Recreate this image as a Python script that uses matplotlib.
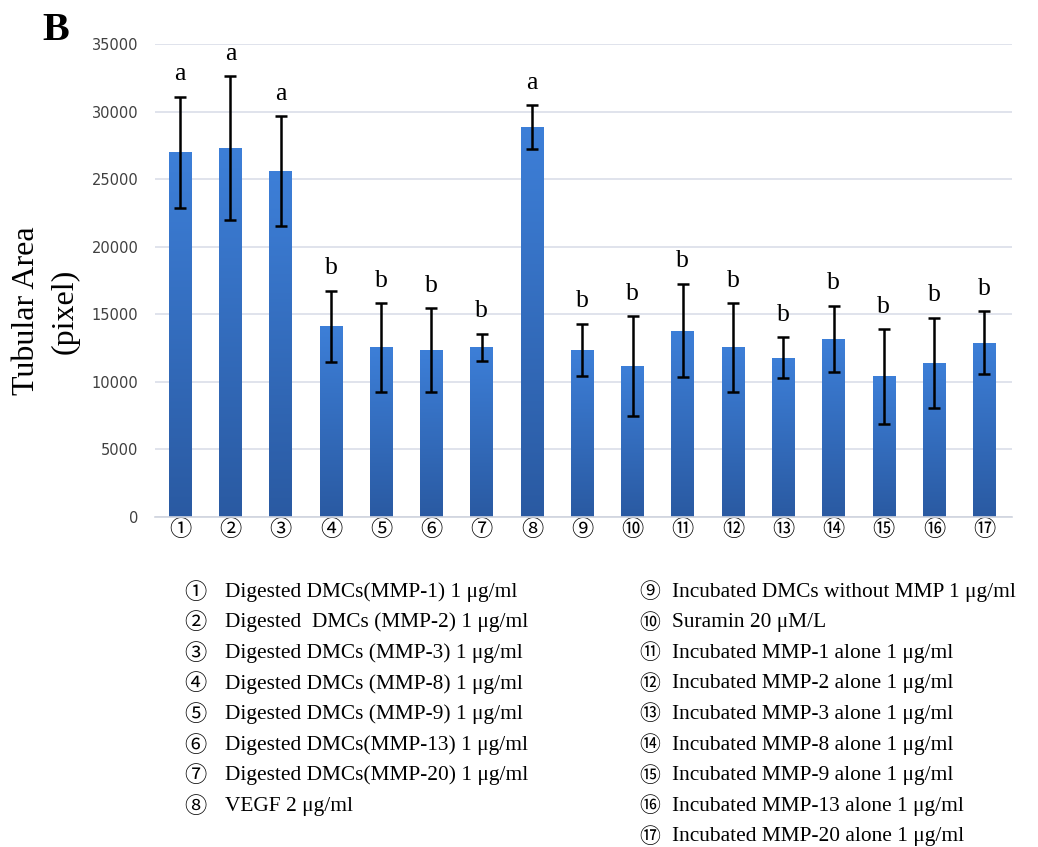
import matplotlib
matplotlib.use("Agg")
import matplotlib.pyplot as plt
import numpy as np
from matplotlib.colors import LinearSegmentedColormap

# values
groups = ["①", "②", "③", "④", "⑤", "⑥", "⑦", "⑧", "⑨",
          "⑩", "⑪", "⑫", "⑬", "⑭", "⑮", "⑯", "⑰"]
means = [27000, 27300, 25600, 14100, 12550, 12350, 12550, 28850, 12350,
         11150, 13800, 12550, 11800, 13200, 10400, 11400, 12900]
errs = [4100, 5300, 4050, 2650, 3280, 3080, 1000, 1600, 1950,
        3700, 3470, 3275, 1500, 2450, 3485, 3350, 2330]
letters = ["a", "a", "a", "b", "b", "b", "b", "a", "b",
           "b", "b", "b", "b", "b", "b", "b", "b"]

legend_left = ["Digested DMCs(MMP-1) 1 μg/ml",
               "Digested  DMCs (MMP-2) 1 μg/ml",
               "Digested DMCs (MMP-3) 1 μg/ml",
               "Digested DMCs (MMP-8) 1 μg/ml",
               "Digested DMCs (MMP-9) 1 μg/ml",
               "Digested DMCs(MMP-13) 1 μg/ml",
               "Digested DMCs(MMP-20) 1 μg/ml",
               "VEGF 2 μg/ml"]
legend_right = ["Incubated DMCs without MMP 1 μg/ml",
                "Suramin 20 μM/L",
                "Incubated MMP-1 alone 1 μg/ml",
                "Incubated MMP-2 alone 1 μg/ml",
                "Incubated MMP-3 alone 1 μg/ml",
                "Incubated MMP-8 alone 1 μg/ml",
                "Incubated MMP-9 alone 1 μg/ml",
                "Incubated MMP-13 alone 1 μg/ml",
                "Incubated MMP-20 alone 1 μg/ml"]

serif = ["Liberation Serif", "Noto Sans CJK JP", "DejaVu Sans"]
circ = ["Noto Sans CJK JP", "DejaVu Sans"]

W, H = 1038, 847
fig = plt.figure(figsize=(W / 100, H / 100), dpi=100)
ax = fig.add_axes([155 / W, 1 - 517 / H, (1012 - 155) / W, 473 / H])

x = np.arange(len(means))
bars = ax.bar(x, means, width=0.45, color="#3370c8", zorder=2)

# vertical gradient inside each bar
cmap = LinearSegmentedColormap.from_list("bl", ["#2a5aa2", "#3d7fd8"])
grad = np.linspace(0, 1, 256).reshape(-1, 1)
for b in bars:
    x0, w, h = b.get_x(), b.get_width(), b.get_height()
    im = ax.imshow(grad, extent=[x0, x0 + w, 0, h], origin="lower",
                   cmap=cmap, aspect="auto", zorder=2.1)
    im.set_clip_path(b)

ax.errorbar(x, means, yerr=errs, fmt="none", ecolor="black",
            elinewidth=1.8, capsize=4, capthick=1.8, zorder=3)

for xi, m, e, l in zip(x, means, errs, letters):
    ax.text(xi, m + e + 850, l, ha="center", va="bottom",
            fontsize=18.5, family=serif, color="black")

ax.set_xlim(-0.5, len(means) - 0.45)
ax.set_ylim(0, 35000)
ax.set_yticks(np.arange(0, 35001, 5000))
ax.yaxis.grid(True, color="#dadee9", lw=1.2, zorder=0)
ax.set_axisbelow(True)
for s in ["top", "right", "left"]:
    ax.spines[s].set_visible(False)
ax.spines["bottom"].set_color("#d0d4de")
ax.spines["bottom"].set_linewidth(1.2)
ax.tick_params(axis="both", length=0)
ax.tick_params(axis="y", pad=12, labelsize=10.5, labelcolor="#404040")
ax.set_xticks(x)
ax.set_xticklabels(groups, fontsize=16, family=circ)
ax.tick_params(axis="x", pad=1)

# y label, two lines
fig.text(27 / W, 1 - 311 / H, "Tubular Area", rotation=90, ha="center",
         va="center", fontsize=23, family=serif)
fig.text(65 / W, 1 - 311 / H, "(pixel)", rotation=90, ha="center",
         va="center", fontsize=23, family=serif)

fig.text(56 / W, 1 - 30 / H, "B", ha="center", va="center",
         fontsize=29, weight="bold", family=serif)

# legend text below
row = 30.6
for i, t in enumerate(legend_left):
    yy = 1 - (592 + i * row) / H
    fig.text(195 / W, yy, groups[i], ha="center", va="center",
             fontsize=16, family=circ)
    fig.text(225 / W, yy, t, ha="left", va="center",
             fontsize=15.4, family=serif)
for i, t in enumerate(legend_right):
    yy = 1 - (592 + i * row) / H
    fig.text(650 / W, yy, groups[8 + i], ha="center", va="center",
             fontsize=15, family=circ)
    fig.text(672 / W, yy, t, ha="left", va="center",
             fontsize=15.4, family=serif)

fig.savefig("out.png", dpi=100)
